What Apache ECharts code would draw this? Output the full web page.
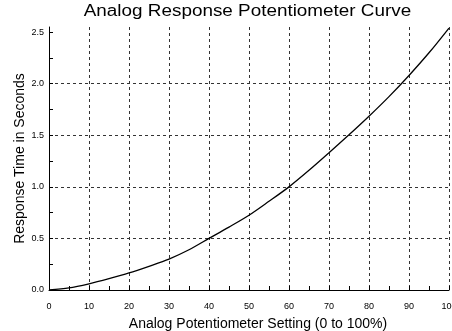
<!DOCTYPE html>
<html>
<head>
<meta charset="utf-8">
<script src="https://cdn.jsdelivr.net/npm/echarts@6/dist/echarts.min.js"></script>
<style>
  html, body { margin: 0; padding: 0; background: #fff; }
  #chart { width: 452px; height: 331px; }
</style>
</head>
<body>
<div id="chart"></div>
<script>
// Potentiometer setting (%) and the resulting response time (s)
const settings = [0, 5, 10, 15, 20, 25, 30, 35, 40, 45, 50, 55, 60, 65, 70, 75, 80, 85, 90, 95, 100];
const responseTimes = [0, 0.02, 0.06, 0.11, 0.165, 0.23, 0.30, 0.39, 0.50, 0.61, 0.725, 0.86, 1.0, 1.16, 1.33, 1.505, 1.685, 1.875, 2.08, 2.30, 2.54];
const yMajorTicks = [0, 0.5, 1.0, 1.5, 2.0, 2.5];

const font = 'Liberation Sans, Arial, sans-serif';
const gridLine = { show: true, lineStyle: { color: '#333', width: 1, type: [3, 3] } };

const chart = echarts.init(document.getElementById('chart'), null, { renderer: 'canvas' });
chart.setOption({
  animation: false,
  backgroundColor: '#fff',
  graphic: [{
    // chart title, set a little wide
    type: 'text',
    x: 247.5, y: 4, scaleX: 1.18, scaleY: 1,
    style: {
      text: 'Analog Response Potentiometer Curve',
      font: '16px ' + font,
      fill: '#000',
      textAlign: 'center',
      textVerticalAlign: 'top'
    }
  }],
  grid: { left: 49, right: 3, top: 27, bottom: 41, containLabel: false, outerBoundsMode: 'none' },
  xAxis: {
    type: 'value', min: 0, max: 100, interval: 10,
    name: 'Analog Potentiometer Setting (0 to 100%)',
    nameLocation: 'middle', nameGap: 27,
    nameTextStyle: { fontFamily: font, fontSize: 14, color: '#000', padding: [0, 0, 0, 18] },
    axisLine: { show: true, lineStyle: { color: '#000', width: 1 } },
    axisTick: { show: true, inside: true, length: 4, lineStyle: { color: '#000' } },
    minorTick: { show: true, splitNumber: 2, length: 4, lineStyle: { color: '#000' } },
    axisLabel: { fontFamily: font, fontSize: 9, color: '#000', margin: 12, hideOverlap: false },
    splitLine: gridLine
  },
  yAxis: {
    type: 'value', min: 0, max: 2.55, interval: 0.5,
    name: 'Response Time in Seconds',
    nameLocation: 'middle', nameGap: 22, nameMoveOverlap: false,
    nameTextStyle: { fontFamily: font, fontSize: 14, color: '#000' },
    axisLine: { show: true, lineStyle: { color: '#000', width: 1 } },
    axisTick: { show: true, inside: true, length: 4, customValues: yMajorTicks, lineStyle: { color: '#000' } },
    minorTick: { show: true, splitNumber: 2, length: 4, lineStyle: { color: '#000' } },
    axisLabel: {
      fontFamily: font, fontSize: 9, color: '#000', margin: 5, showMaxLabel: false,
      formatter: v => v.toFixed(1)
    },
    splitLine: Object.assign({ showMaxLine: false }, gridLine)
  },
  series: [{
    type: 'line',
    data: settings.map((s, i) => [s, responseTimes[i]]),
    smooth: 0.3,
    showSymbol: false,
    clip: false,
    lineStyle: { color: '#000', width: 1.3 }
  }]
});
</script>
</body>
</html>
